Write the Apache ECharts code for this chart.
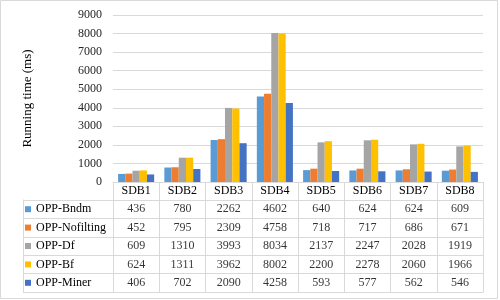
<!DOCTYPE html>
<html>
<head>
<meta charset="utf-8">
<script src="https://cdn.jsdelivr.net/npm/echarts@6/dist/echarts.min.js"></script>
<style>html,body{margin:0;padding:0;background:#fff}#c{width:500px;height:300px}</style>
</head>
<body>
<div id="c"></div>
<script>
var categories = ['SDB1','SDB2','SDB3','SDB4','SDB5','SDB6','SDB7','SDB8'];
var seriesNames = ['OPP-Bndm','OPP-Nofilting','OPP-Df','OPP-Bf','OPP-Miner'];
var bndm      = [436, 780, 2262, 4602, 640, 624, 624, 609];
var nofilting = [452, 795, 2309, 4758, 718, 717, 686, 671];
var df        = [609, 1310, 3993, 8034, 2137, 2247, 2028, 1919];
var bf        = [624, 1311, 3962, 8002, 2200, 2278, 2060, 1966];
var miner     = [406, 702, 2090, 4258, 593, 577, 562, 546];
var yTicks = [0, 1000, 2000, 3000, 4000, 5000, 6000, 7000, 8000, 9000];

var colors = ['#5B9BD5','#ED7D31','#A5A5A5','#FFC000','#4472C4'];
var allValues = [bndm, nofilting, df, bf, miner];
var FONT = 'Liberation Serif';
var GRAY = '#D9D9D9';

var chart = echarts.init(document.getElementById('c'), null, {renderer:'canvas'});

var rich = {t: {fontFamily: FONT, fontSize: 12, color: '#000', padding: [0,0,0,5]}};
colors.forEach(function(c, i){ rich['c'+i] = {backgroundColor: c, width: 6, height: 6}; });

var barSeries = seriesNames.map(function(n, i){
  return {
    name: n, type: 'bar', xAxisIndex: 0, yAxisIndex: 0,
    data: allValues[i], barGap: '0%', barCategoryGap: '22%',
    itemStyle: {color: colors[i]}, silent: true
  };
});

var tableData = [];
allValues.forEach(function(arr, s){
  arr.forEach(function(v, c){ tableData.push([c, s, v]); });
});

chart.setOption({
  animation: false,
  backgroundColor: '#fff',
  textStyle: {fontFamily: FONT},
  grid: [
    {left: 113, right: 17, top: 15, bottom: 118},
    {left: 113, right: 17, top: 200, bottom: 8}
  ],
  xAxis: [
    {gridIndex: 0, type: 'category', data: categories,
     axisLine: {show: true, lineStyle: {color: GRAY}},
     axisTick: {show: true, length: 18, lineStyle: {color: GRAY}},
     axisLabel: {margin: 3, fontFamily: FONT, fontSize: 12, color: '#000'}},
    {gridIndex: 1, type: 'category', data: categories,
     axisLine: {show: true, lineStyle: {color: GRAY}},
     axisTick: {show: false}, axisLabel: {show: false},
     splitLine: {show: true, lineStyle: {color: GRAY}}}
  ],
  yAxis: [
    {gridIndex: 0, type: 'value', min: yTicks[0], max: yTicks[yTicks.length-1], interval: 1000,
     axisLine: {show: false}, axisTick: {show: false},
     splitLine: {lineStyle: {color: GRAY}},
     axisLabel: {margin: 11, fontFamily: FONT, fontSize: 12, color: '#262626',
       formatter: function(v){ return String(v); }},
     name: 'Running time (ms)', nameLocation: 'middle', nameGap: 79,
     nameTextStyle: {fontFamily: FONT, fontSize: 13, color: '#000'}},
    {gridIndex: 1, type: 'category', data: seriesNames, inverse: true,
     axisLine: {show: true, lineStyle: {color: GRAY}},
     axisTick: {show: true, length: 90, lineStyle: {color: GRAY}},
     splitLine: {show: true, lineStyle: {color: GRAY}},
     axisLabel: {align: 'left', margin: 88, fontFamily: FONT, fontSize: 12, color: '#000', rich: rich,
       formatter: function(v, i){ return '{c'+i+'|}{t|'+v+'}'; }}},
    {gridIndex: 1, type: 'category', data: seriesNames, inverse: true, position: 'left', offset: 90,
     axisLine: {show: true, lineStyle: {color: GRAY}},
     axisTick: {show: false}, axisLabel: {show: false}, splitLine: {show: false}}
  ],
  series: barSeries.concat([{
    type: 'scatter', xAxisIndex: 1, yAxisIndex: 1, data: tableData,
    symbol: 'rect', symbolSize: 1, itemStyle: {color: 'rgba(0,0,0,0)'}, silent: true,
    label: {show: true, position: 'inside', color: '#000', fontFamily: FONT, fontSize: 12,
      formatter: function(p){ return String(p.value[2]); }}
  }]),
  graphic: [{type: 'rect', shape: {x: 0.5, y: 0.5, width: 497, height: 298},
    style: {fill: 'none', stroke: GRAY, lineWidth: 1}, silent: true}]
});
</script>
</body>
</html>
